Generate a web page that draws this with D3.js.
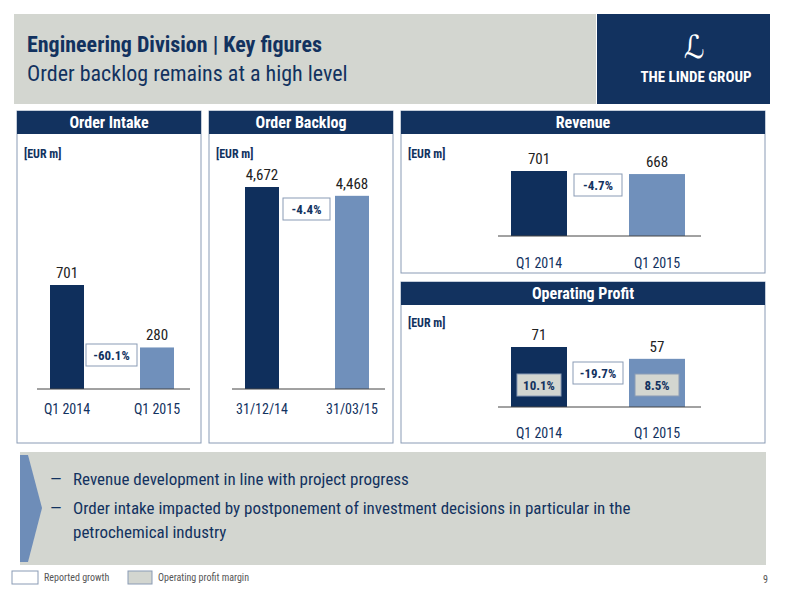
<!DOCTYPE html>
<html><head><meta charset="utf-8">
<script src="https://d3js.org/d3.v7.min.js"></script>
<style>
body{margin:0;background:#fff;}
text{font-family:"Liberation Sans Narrow","Roboto Condensed","DejaVu Sans Condensed",sans-serif;}
</style></head>
<body><svg id="c" width="800" height="600"></svg>
<script>
// data
intakeCats = ["Q1 2014", "Q1 2015"];
intakeVals = [701, 280];
backlogCats = ["31/12/14", "31/03/15"];
backlogVals = [4672, 4468];
revenueCats = ["Q1 2014", "Q1 2015"];
revenueVals = [701, 668];
profitCats = ["Q1 2014", "Q1 2015"];
profitVals = [71, 57];
profitMargins = ["10.1%", "8.5%"];
growth = {intake: "-60.1%", backlog: "-4.4%", revenue: "-4.7%", profit: "-19.7%"};
bullets = [["Revenue development in line with project progress"],
  ["Order intake impacted by postponement of investment decisions in particular in the", "petrochemical industry"]];

navy = "#12325f"; dark = "#0f2f5c"; light = "#7090bb"; grey = "#d3d6d0";
svg = d3.select("#c");

// header
svg.append("rect").attr("x",14).attr("y",14).attr("width",582).attr("height",90).attr("fill",grey);
svg.append("rect").attr("x",597).attr("y",14).attr("width",173).attr("height",90).attr("fill",navy);
svg.append("text").attr("x",27).attr("y",52).attr("font-size",22).attr("font-weight","bold").attr("fill",navy).text("Engineering Division | Key figures");
svg.append("text").attr("x",27).attr("y",81).attr("font-size",22).attr("fill",navy).text("Order backlog remains at a high level");
svg.append("text").attr("x",694).attr("y",58).attr("font-size",32).attr("font-style","italic").attr("font-family","DejaVu Serif").attr("fill","#fff").attr("text-anchor","middle").text("ℒ");
svg.append("text").attr("x",696).attr("y",82).attr("font-size",15).attr("font-weight","bold").attr("fill","#fff").attr("text-anchor","middle").text("THE LINDE GROUP");

function panel(x, y, w, h, title, unitY){
  svg.append("rect").attr("x",x).attr("y",y).attr("width",w).attr("height",h).attr("fill","#fff").attr("stroke","#8a9bb5");
  svg.append("rect").attr("x",x).attr("y",y).attr("width",w).attr("height",23).attr("fill",navy);
  svg.append("text").attr("x",x+w/2).attr("y",y+17).attr("font-size",16).attr("font-weight","bold").attr("fill","#fff").attr("text-anchor","middle").text(title);
  svg.append("text").attr("x",x+7).attr("y",unitY).attr("font-size",12).attr("font-weight","bold").attr("fill",navy).text("[EUR m]");
}

function growthBox(x, y, w, t, fill){
  svg.append("rect").attr("x",x).attr("y",y).attr("width",w).attr("height",22).attr("fill",fill||"#fff").attr("stroke","#8a9bb5");
  svg.append("text").attr("x",x+w/2).attr("y",y+16).attr("font-size",13).attr("font-weight","bold").attr("fill",navy).attr("text-anchor","middle").text(t);
}

function bars(cats, vals, x0, x1, base, top, maxV, bw, labelY, fmt){
  const x = d3.scaleBand().domain(cats).range([x0, x1]).paddingInner(0).paddingOuter(0);
  const y = d3.scaleLinear().domain([0, maxV]).range([base, top]);
  const g = svg.append("g");
  g.selectAll("rect").data(vals).join("rect")
    .attr("x",(d,i)=>x(cats[i])+x.bandwidth()/2-bw/2).attr("width",bw)
    .attr("y",d=>y(d)).attr("height",d=>base-y(d))
    .attr("fill",(d,i)=>i==0?dark:light);
  g.selectAll("text.v").data(vals).join("text").attr("class","v")
    .attr("x",(d,i)=>x(cats[i])+x.bandwidth()/2).attr("y",d=>y(d)-7)
    .attr("font-size",15).attr("fill","#222").attr("text-anchor","middle").text(d=>d3.format(fmt)(d));
  const first = x(cats[0])+x.bandwidth()/2-bw/2, last = x(cats[cats.length-1])+x.bandwidth()/2+bw/2;
  g.append("line").attr("x1",first-13).attr("x2",last+16).attr("y1",base).attr("y2",base).attr("stroke","#444");
  g.selectAll("text.c").data(cats).join("text").attr("class","c")
    .attr("x",d=>x(d)+x.bandwidth()/2).attr("y",labelY)
    .attr("font-size",14).attr("fill",navy).attr("text-anchor","middle").text(d=>d);
  return {x, y};
}

panel(17,111,184,332,"Order Intake",158);
bars(intakeCats, intakeVals, 22, 202, 389, 285, 701, 34, 414, ",");
growthBox(86,344,51,growth.intake);

panel(209,111,184,332,"Order Backlog",158);
bars(backlogCats, backlogVals, 217, 397, 389, 187, 4672, 34, 414, ",");
growthBox(283,198,47,growth.backlog);

panel(401,111,364,162,"Revenue",158);
bars(revenueCats, revenueVals, 480, 716, 236, 171, 701, 56, 268, ",");
growthBox(574,174,48,growth.revenue);

panel(401,282,364,161,"Operating Profit",327);
const pr = bars(profitCats, profitVals, 480, 716, 407, 347, 71, 56, 438, ",");
profitMargins.forEach((m,i)=>{
  const cx = pr.x(profitCats[i]) + pr.x.bandwidth()/2;
  growthBox(cx-22,374,44,m,grey);
});
growthBox(573,362,50,growth.profit);

// bottom box
svg.append("rect").attr("x",20).attr("y",452).attr("width",746).attr("height",113).attr("fill",grey);
svg.append("path").attr("d","M20,455 L28,455 L42,508 L28,562 L20,562 Z").attr("fill","#6e8db8");
let ly = 485;
bullets.forEach(b=>{
  svg.append("text").attr("x",50).attr("y",ly).attr("font-size",17).attr("fill",navy).text("—");
  b.forEach((l,j)=>{
    svg.append("text").attr("x",73).attr("y",ly).attr("font-size",17).attr("fill",navy).text(l);
    ly += j < b.length-1 ? 24 : 29;
  });
});

// legend
svg.append("rect").attr("x",12).attr("y",571).attr("width",26).attr("height",13).attr("fill","#fff").attr("stroke","#8a9bb5");
svg.append("text").attr("x",44).attr("y",581).attr("font-size",10).attr("fill","#555").text("Reported growth");
svg.append("rect").attr("x",128).attr("y",571).attr("width",24).attr("height",13).attr("fill",grey).attr("stroke","#8a9bb5");
svg.append("text").attr("x",158).attr("y",581).attr("font-size",10).attr("fill","#555").text("Operating profit margin");
svg.append("text").attr("x",768).attr("y",583).attr("font-size",10).attr("fill","#555").attr("text-anchor","end").text("9");
</script></body></html>
